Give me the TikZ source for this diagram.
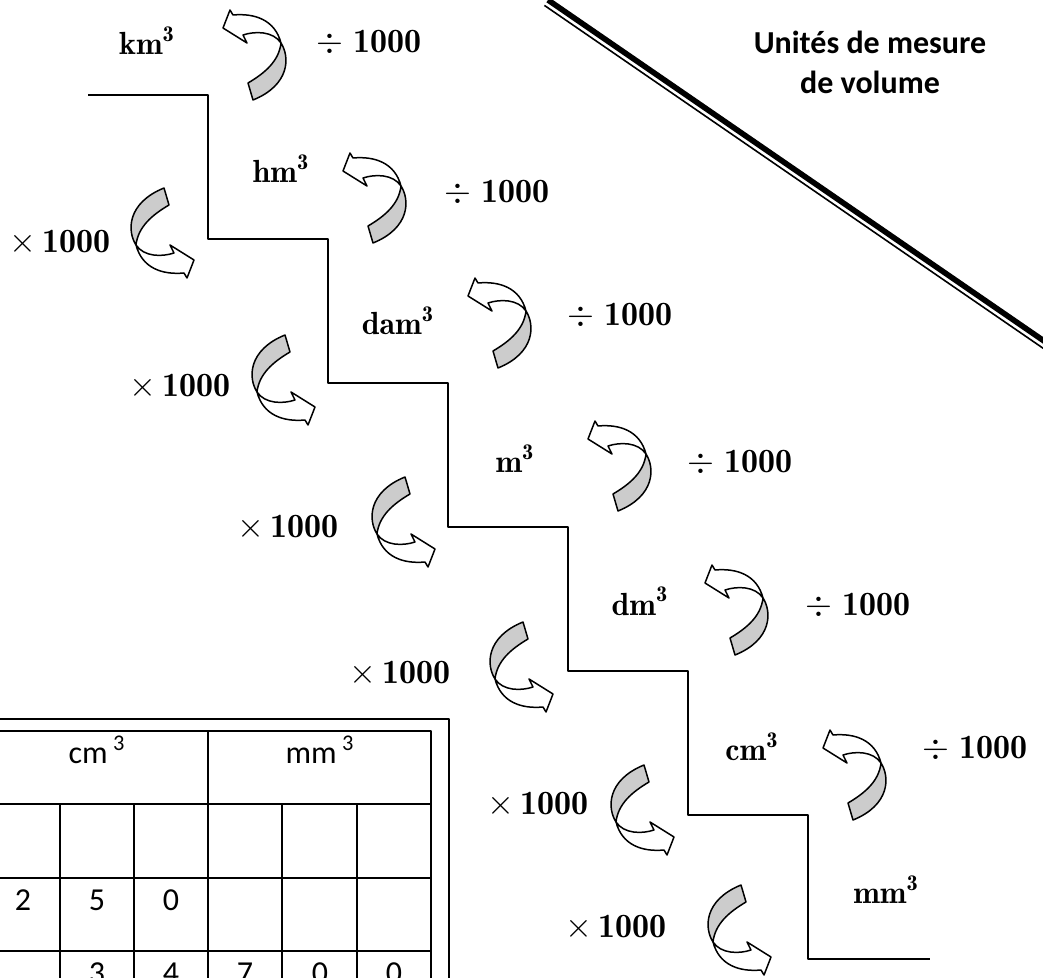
\documentclass[tikz,border=0pt]{standalone}
\usepackage{amsmath}
\usepackage{fontspec}
\newfontfamily\carlito{Carlito}
\usetikzlibrary{positioning}
\tikzset{
  unitlbl/.style={font=\fontsize{16}{18}\selectfont,anchor=base,inner sep=0pt},
  factorlbl/.style={font=\fontsize{17}{19}\selectfont,anchor=base,inner sep=0pt},
  cell/.style={font=\carlito\fontsize{16}{18}\selectfont,anchor=base,inner sep=0pt},
  titlelbl/.style={font=\carlito\bfseries\fontsize{16}{20}\selectfont,align=center,inner sep=0pt},
  turnarrow/.pic={
    \filldraw[fill=black!20] (26,-12) .. controls (35,2) and (35,30) .. (-2,45) -- (-7,28)
      .. controls (10,18) and (24,6) .. (26,-12) -- cycle;
    \filldraw[fill=white] (26,-12) .. controls (20,-35) and (0,-42) .. (-22,-40) -- (-25,-45)
      -- (-32,-27) -- (-8,-12) -- (-12,-20) .. controls (0,-24) and (18,-24) .. (26,-12) -- cycle;
  }
}
\begin{document}
\begin{tikzpicture}[x=0.5pt,y=-0.5pt,line join=round,line width=0.75pt]
\useasboundingbox (0,0) rectangle (1043,978);
\clip (0,0) rectangle (1043,978);
% staircase
\draw[line width=1pt] (88,95) \foreach \i in {0,...,5}{ -| ({208+120*\i},{239+144*\i}) } -- (930,959);
% double rule and title
\coordinate (s1) at (548,0); \coordinate (s2) at (1060,352);
\draw[line width=2.8pt] (s1) -- (s2);
\draw[line width=0.8pt] ([shift={(-3.6,5.4)}]s1) -- ([shift={(-3.6,5.4)}]s2);
\node[titlelbl] (ttl) at (870,62) {Unités de mesure\\de volume};
% units
\node[unitlbl] (km) at (147,55) {$\mathbf{km}^{\mathbf{3}}$};
\node[unitlbl] (hm) at (281,183) {$\mathbf{hm}^{\mathbf{3}}$};
\node[unitlbl] (dam) at (398,335) {$\mathbf{dam}^{\mathbf{3}}$};
\node[unitlbl] (m) at (515,472) {$\mathbf{m}^{\mathbf{3}}$};
\node[unitlbl] (dm) at (640,615) {$\mathbf{dm}^{\mathbf{3}}$};
\node[unitlbl] (cm) at (752,760) {$\mathbf{cm}^{\mathbf{3}}$};
\node[unitlbl] (mm) at (886,903) {$\mathbf{mm}^{\mathbf{3}}$};
% divide / multiply
\foreach \x/\y [count=\k] in {369/53,497/203,620/326,740/472,858/615,975/758}
  \node[factorlbl] (dv\k) at (\x,\y) {$\div\;\mathbf{1000}$};
\foreach \x/\y [count=\k] in {60/253,180/396,288/537,400/683,538/814,616/937}
  \node[factorlbl] (ml\k) at (\x,\y) {$\times\,\mathbf{1000}$};
\foreach \x/\y in {255/55,375/198,500/323,620/466,737/610,855/775}
  \pic at (\x,\y) {turnarrow};
\foreach \x/\y in {162/233,283/380,403/522,521/667,642/810,739/930}
  \pic[rotate=180] at (\x,\y) {turnarrow};
% table
\draw[line width=1pt] (-40,719) -| (449,1040);
\draw[line width=1pt] (-14,731) rectangle (431,1040);
\foreach \y in {804,878,951} \draw[line width=1pt] (-14,\y) -- (431,\y);
\draw[line width=1pt] (208,731) -- (208,1040);
\foreach \x in {60,134,282,357} \draw[line width=1pt] (\x,804) -- (\x,1040);
\node[cell] (hcm) at (97,763) {cm\,\textsuperscript{3}};
\node[cell] (hmm) at (320,763) {mm\,\textsuperscript{3}};
\foreach \x/\t [count=\k] in {23/2,97/5,171/0}
  \node[cell] (ra\k) at (\x,910) {\t};
\foreach \x/\t [count=\k] in {97/3,171/4,245/7,320/0,394/0}
  \node[cell] (rb\k) at (\x,983) {\t};
\end{tikzpicture}
\end{document}
